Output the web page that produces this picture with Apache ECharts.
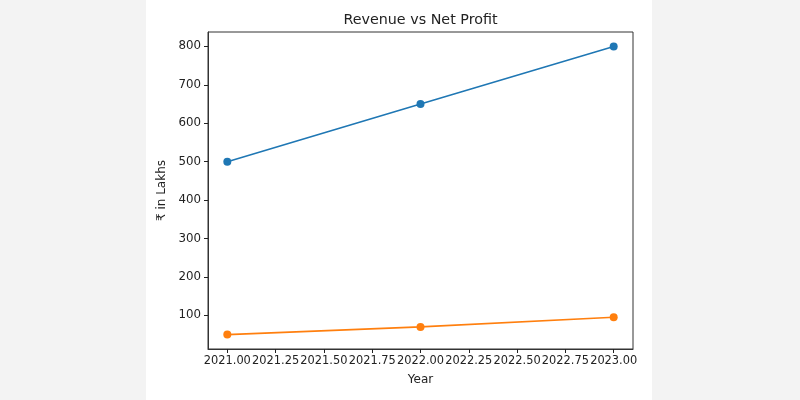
<!DOCTYPE html>
<html>
<head>
<meta charset="utf-8">
<script src="https://cdn.jsdelivr.net/npm/echarts@6/dist/echarts.min.js"></script>
<style>
  html, body { margin: 0; padding: 0; }
  #chart { width: 800px; height: 400px; }
</style>
</head>
<body>
<div id="chart"></div>
<script>
const years = [2021, 2022, 2023]
const revenue = [500, 650, 800]
const netProfit = [50, 70, 95]
const xTicks = [2021.0, 2021.25, 2021.5, 2021.75, 2022.0, 2022.25, 2022.5, 2022.75, 2023.0]
const yTicks = [100, 200, 300, 400, 500, 600, 700, 800]

const font = 'DejaVu Sans'
const chart = echarts.init(document.getElementById('chart'))

const option = {
  backgroundColor: '#f3f3f3',
  animation: false,
  graphic: [
    {
      type: 'rect',
      z: -10,
      shape: { x: 146, y: 0, width: 506, height: 400 },
      style: { fill: '#ffffff' }
    },
    {
      type: 'text',
      x: 420.5,
      y: 20.5,
      style: {
        text: 'Revenue vs Net Profit',
        fontFamily: font,
        fontSize: 14.3,
        fill: '#222',
        align: 'center',
        verticalAlign: 'middle'
      }
    }
  ],
  grid: {
    left: 208,
    right: 167,
    top: 32,
    bottom: 51,
    show: true,
    borderColor: '#333',
    borderWidth: 1,
    backgroundColor: 'transparent'
  },
  xAxis: {
    type: 'value',
    min: 2020.9,
    max: 2023.1,
    name: 'Year',
    nameLocation: 'middle',
    nameGap: 25,
    nameTextStyle: { fontFamily: font, fontSize: 12, color: '#222' },
    splitLine: { show: false },
    axisLine: { show: true, lineStyle: { color: '#333' } },
    axisTick: { show: true, length: 4, customValues: xTicks, lineStyle: { color: '#222', width: 1 } },
    axisLabel: {
      customValues: xTicks,
      showMinLabel: true,
      showMaxLabel: true,
      hideOverlap: false,
      margin: 7,
      fontFamily: font,
      fontSize: 11.4,
      color: '#222',
      formatter: v => Number(v).toFixed(2)
    }
  },
  yAxis: {
    type: 'value',
    min: 12.5,
    max: 837.5,
    name: '₹ in Lakhs',
    nameLocation: 'middle',
    nameGap: 33,
    nameTextStyle: { fontFamily: font, fontSize: 12, color: '#222' },
    splitLine: { show: false },
    axisLine: { show: true, lineStyle: { color: '#333' } },
    axisTick: { show: true, length: 4, customValues: yTicks, lineStyle: { color: '#222', width: 1 } },
    axisLabel: {
      customValues: yTicks,
      showMinLabel: true,
      showMaxLabel: true,
      hideOverlap: false,
      margin: 7,
      fontFamily: font,
      fontSize: 11.8,
      color: '#222'
    }
  },
  series: [
    {
      name: 'Revenue',
      type: 'line',
      data: years.map((y, i) => [y, revenue[i]]),
      symbol: 'circle',
      symbolSize: 8,
      lineStyle: { color: '#1f77b4', width: 1.6 },
      itemStyle: { color: '#1f77b4' }
    },
    {
      name: 'Net Profit',
      type: 'line',
      data: years.map((y, i) => [y, netProfit[i]]),
      symbol: 'circle',
      symbolSize: 8,
      lineStyle: { color: '#ff7f0e', width: 1.6 },
      itemStyle: { color: '#ff7f0e' }
    }
  ]
}

chart.setOption(option)
</script>
</body>
</html>
